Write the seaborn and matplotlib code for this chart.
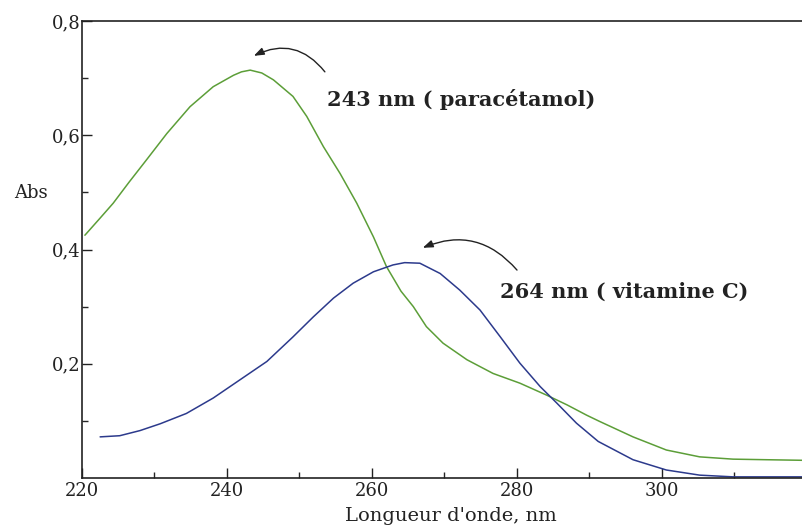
import matplotlib
matplotlib.use("Agg")
import matplotlib.pyplot as plt
import seaborn as sns
import pandas as pd

# ---- data ----
para_nm = [220.4, 222.5, 224.3, 226.5, 228.9, 231.7, 234.9, 238.1, 240.9, 242.0,
           243.2, 244.8, 246.4, 249.1, 251.0, 253.3, 255.6, 257.9, 260.2, 262.0,
           264.0, 265.7, 267.5, 269.8, 273.1, 276.7, 280.4, 284.1, 286.9, 289.6,
           291.4, 296.0, 300.6, 305.2, 309.8, 314.4, 319.3]
para_abs = [0.425, 0.455, 0.481, 0.518, 0.557, 0.603, 0.650, 0.685, 0.705, 0.711,
            0.714, 0.709, 0.697, 0.668, 0.633, 0.580, 0.533, 0.481, 0.422, 0.370,
            0.327, 0.300, 0.265, 0.236, 0.207, 0.183, 0.166, 0.145, 0.128, 0.110,
            0.099, 0.072, 0.049, 0.037, 0.033, 0.032, 0.031]

vitc_nm = [222.5, 225.2, 228.0, 230.8, 234.4, 238.1, 241.8, 245.5, 249.1, 251.9,
           254.7, 257.4, 260.2, 262.9, 264.5, 266.6, 269.4, 272.1, 274.9, 277.7,
           280.4, 283.2, 285.5, 288.2, 291.2, 296.0, 300.6, 305.2, 309.8, 314.4,
           319.3]
vitc_abs = [0.072, 0.074, 0.083, 0.095, 0.113, 0.140, 0.172, 0.204, 0.247, 0.282,
            0.315, 0.341, 0.361, 0.373, 0.377, 0.376, 0.358, 0.329, 0.294, 0.247,
            0.201, 0.160, 0.131, 0.096, 0.064, 0.032, 0.014, 0.005, 0.002, 0.002,
            0.002]

x_major = [220, 240, 260, 280, 300]
x_minor = [230, 250, 270, 290, 310]
y_major = [0.2, 0.4, 0.6, 0.8]
y_major_labels = ["0,2", "0,4", "0,6", "0,8"]
y_minor = [0.1, 0.3, 0.5, 0.7]

ann_para = "243 nm ( paracétamol)"
ann_vitc = "264 nm ( vitamine C)"

# ---- style ----
sns.set_style("ticks")
plt.rcParams["font.family"] = ["DejaVu Serif"]

df = pd.concat([
    pd.DataFrame({"nm": para_nm, "Abs": para_abs, "s": "paracetamol"}),
    pd.DataFrame({"nm": vitc_nm, "Abs": vitc_abs, "s": "vitamine C"}),
])

fig = plt.figure(figsize=(8.02, 5.27), dpi=100)
ax = fig.add_axes([82 / 802, 49 / 527, 720 / 802, 457 / 527])

sns.lineplot(data=df, x="nm", y="Abs", hue="s", sort=False, estimator=None,
             palette={"paracetamol": "#5c9e38", "vitamine C": "#2c3a8c"},
             linewidth=1.1, legend=False, ax=ax)

ax.set_xlim(220, 220 + 720 / 7.25)
ax.set_ylim(0, 0.8)

ax.set_xticks(x_major)
ax.set_xticks(x_minor, minor=True)
ax.set_yticks(y_major)
ax.set_yticklabels(y_major_labels)
ax.set_yticks(y_minor, minor=True)

ax.tick_params(which="major", direction="in", length=7, width=1.0,
               labelsize=13, colors="#222222", pad=3)
ax.tick_params(which="minor", direction="in", length=4, width=1.0)
ax.tick_params(axis="y", which="major", pad=1)

for side in ["left", "bottom", "top"]:
    ax.spines[side].set_color("#222222")
    ax.spines[side].set_linewidth(1.2)
ax.spines["right"].set_visible(False)

ax.set_xlabel("Longueur d'onde, nm", fontsize=14, color="#222222")
ax.xaxis.set_label_coords((451 - 82) / 720, (478 - 521) / 457)
ax.xaxis.label.set_va("baseline")
ax.set_ylabel("")
fig.text(31 / 802, 1 - 193 / 527, "Abs", fontsize=13, color="#222222",
         ha="center", va="center")

# annotations
ax.annotate("", xy=(243.7, 0.739), xytext=(253.5, 0.711),
            arrowprops=dict(arrowstyle="-|>,head_length=0.6,head_width=0.22",
                            connectionstyle="arc3,rad=0.4", color="#222222",
                            lw=1.0, shrinkA=0, shrinkB=0))
ax.annotate("", xy=(267.0, 0.403), xytext=(280.0, 0.364),
            arrowprops=dict(arrowstyle="-|>,head_length=0.6,head_width=0.22",
                            connectionstyle="arc3,rad=0.36", color="#222222",
                            lw=1.0, shrinkA=0, shrinkB=0))
ax.text(253.8, 0.662, ann_para, fontsize=15, fontweight="bold",
        color="#222222", ha="left", va="center")
ax.text(277.7, 0.326, ann_vitc, fontsize=15, fontweight="bold",
        color="#222222", ha="left", va="center")

fig.savefig("out.png", dpi=100)
